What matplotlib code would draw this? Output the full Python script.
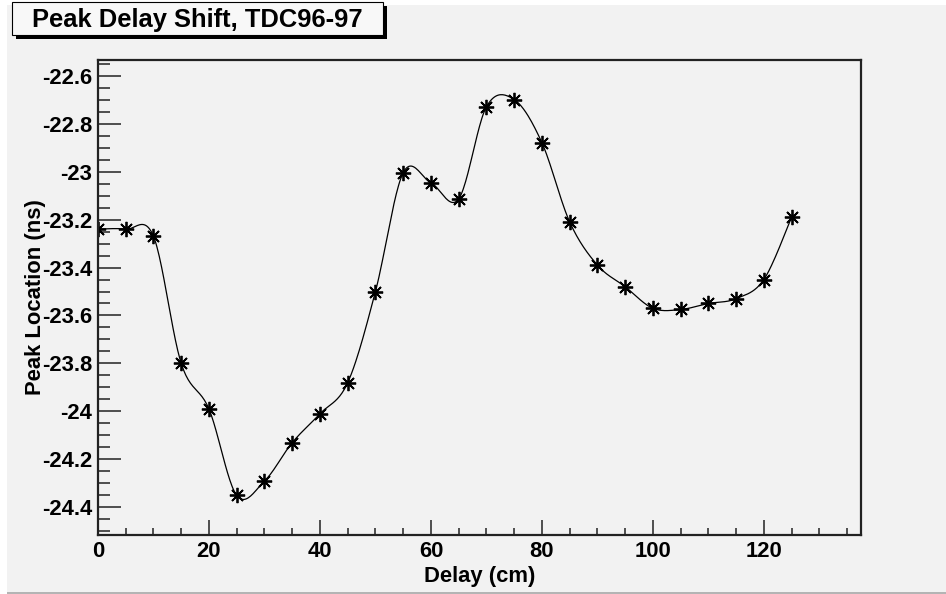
import numpy as np
import matplotlib.pyplot as plt
from matplotlib.patches import Rectangle
from matplotlib.ticker import MultipleLocator, FuncFormatter

plt.rcParams['font.family'] = ['Liberation Sans', 'DejaVu Sans']
plt.rcParams['font.weight'] = 'bold'
plt.rcParams['axes.unicode_minus'] = False

# measured peak positions vs. delay cable length
delay_cm = [0, 5, 10, 15, 20, 25, 30, 35, 40, 45, 50, 55, 60,
            65, 70, 75, 80, 85, 90, 95, 100, 105, 110, 115, 120, 125]
peak_ns = [-23.24, -23.24, -23.27, -23.80, -23.99, -24.35, -24.29, -24.13,
           -24.01, -23.88, -23.50, -23.005, -23.047, -23.114, -22.73, -22.70,
           -22.88, -23.21, -23.39, -23.48, -23.57, -23.575, -23.55, -23.53,
           -23.45, -23.19]

title = "Peak Delay Shift, TDC96-97"
x_title = "Delay (cm)"
y_title = "Peak Location (ns)"

W, H = 946, 594
BG = '#f2f2f2'


def catmull_rom(x, y, n=24):
    # smooth curve through every point, like ROOT's "C" draw option
    x = np.asarray(x, float)
    y = np.asarray(y, float)
    px = np.concatenate([[x[0]], x, [x[-1]]])
    py = np.concatenate([[y[0]], y, [y[-1]]])
    t = np.linspace(0, 1, n, endpoint=False)
    h00 = 2 * t**3 - 3 * t**2 + 1
    h10 = t**3 - 2 * t**2 + t
    h01 = -2 * t**3 + 3 * t**2
    h11 = t**3 - t**2
    xs, ys = [], []
    for i in range(1, len(px) - 2):
        mx = (px[i + 1] - px[i - 1]) / 2
        my = (py[i + 1] - py[i - 1]) / 2
        nx = (px[i + 2] - px[i]) / 2
        ny = (py[i + 2] - py[i]) / 2
        xs.append(h00 * px[i] + h10 * mx + h01 * px[i + 1] + h11 * nx)
        ys.append(h00 * py[i] + h10 * my + h01 * py[i + 1] + h11 * ny)
    xs.append([x[-1]])
    ys.append([y[-1]])
    return np.concatenate(xs), np.concatenate(ys)


fig = plt.figure(figsize=(W / 100, H / 100), dpi=100, facecolor='white')

# canvas fill and its lower border
fig.patches.append(Rectangle((7 / W, 2 / H), 1 - 7 / W, 587 / H,
                             transform=fig.transFigure, facecolor=BG,
                             edgecolor='none', zorder=-2))
fig.patches.append(Rectangle((7 / W, 0), 1 - 7 / W, 2 / H,
                             transform=fig.transFigure, facecolor='#b4b4b4',
                             edgecolor='none', zorder=-2))

ax = fig.add_axes([98 / W, 59 / H, 763 / W, 475 / H])
ax.set_zorder(1)
ax.patch.set_visible(False)

sx, sy = catmull_rom(delay_cm, peak_ns)
ax.plot(sx, sy, color='black', lw=0.9)
ax.plot(delay_cm, peak_ns, ls='none', marker=(8, 2, 0), ms=11,
        mec='black', mew=1.3, color='black')

ax.set_xlim(0, 137.5)
ax.set_ylim(-24.515, -22.535)

ax.xaxis.set_major_locator(MultipleLocator(20))
ax.xaxis.set_minor_locator(MultipleLocator(5))
ax.yaxis.set_major_locator(MultipleLocator(0.2))
ax.yaxis.set_minor_locator(MultipleLocator(0.05))
ax.yaxis.set_major_formatter(FuncFormatter(lambda v, p: '%g' % round(v, 2)))

for s in ax.spines.values():
    s.set_linewidth(1.6)
    s.set_color('#222222')

ax.tick_params(axis='both', which='both', direction='in', width=1.1,
               color='#222222', labelsize=15.8)
ax.tick_params(axis='x', which='major', length=10.8, pad=4)
ax.tick_params(axis='x', which='minor', length=5)
ax.tick_params(axis='y', which='major', length=16.5, pad=4)
ax.tick_params(axis='y', which='minor', length=8.5)

fig.text(479.5 / W, (H - 582) / H, x_title, ha='center', va='baseline',
         fontsize=15.8, fontweight='bold', zorder=2)
fig.text(36 / W, (H - 297) / H, y_title, ha='center', va='center',
         rotation=90, fontsize=15.8, fontweight='bold', zorder=2)

# title box with drop shadow
fig.patches.append(Rectangle((16 / W, (H - 39) / H), 371 / W, 33 / H,
                             transform=fig.transFigure, facecolor='black',
                             edgecolor='none', zorder=2))
fig.patches.append(Rectangle((12 / W, (H - 35) / H), 371 / W, 33 / H,
                             transform=fig.transFigure, facecolor='#f8f8f8',
                             edgecolor='black', lw=0.8, zorder=3))
fig.text(197.5 / W, (H - 27) / H, title, ha='center', va='baseline',
         fontsize=18.4, fontweight='bold', zorder=4)

fig.savefig('out.png', dpi=100, facecolor='white')
